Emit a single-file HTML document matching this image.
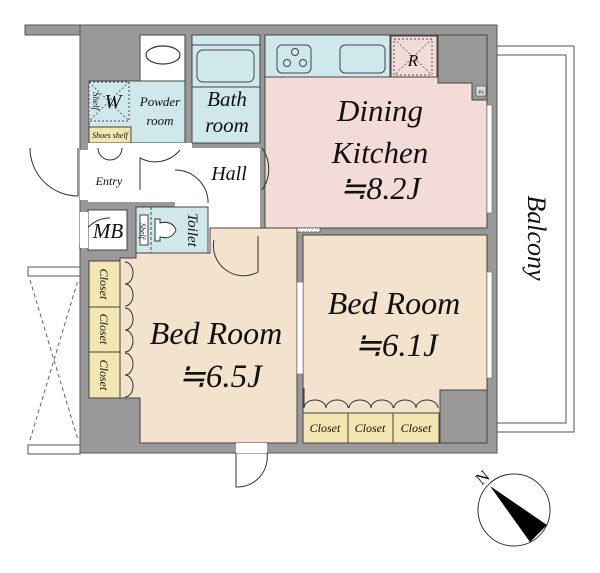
<!DOCTYPE html>
<html><head><meta charset="utf-8"><style>
html,body{margin:0;padding:0;background:#fff;width:600px;height:573px;overflow:hidden}
svg text{font-family:"Liberation Serif",serif;font-style:italic;fill:#111}
</style></head><body>
<svg width="600" height="573" viewBox="0 0 600 573" xmlns="http://www.w3.org/2000/svg">
<!-- balcony -->
<rect x="490" y="46" width="84" height="386" fill="#fff" stroke="#555" stroke-width="1"/>
<rect x="490" y="55" width="76" height="368" fill="#fff" stroke="#555" stroke-width="1"/>
<!-- top left band -->
<rect x="25" y="25" width="60" height="10" fill="#999" stroke="#555" stroke-width="1"/>
<!-- main building grey -->
<rect x="80" y="25" width="417" height="428" fill="#999" stroke="#555" stroke-width="1"/>
<!-- left outside bars -->
<rect x="28" y="267" width="52" height="9" fill="#fff" stroke="#555"/>
<rect x="28" y="445" width="52" height="9" fill="#fff" stroke="#555"/>
<path d="M30 280 L78 440 M30 440 L78 280" stroke="#666" stroke-dasharray="4,3" fill="none"/>
<!-- powder room -->
<rect x="140" y="35" width="45" height="46" fill="#fff" stroke="#444"/>
<ellipse cx="163" cy="55" rx="17" ry="9" fill="#fff" stroke="#333" stroke-width="1.2"/>
<rect x="89" y="81" width="96" height="62" fill="#cfe8ec" stroke="#444"/>
<rect x="89" y="82" width="40" height="39" fill="#cfe8ec" stroke="#444" stroke-dasharray="2,2"/>
<path d="M89 82 L129 121 M129 82 L89 121" stroke="#666" stroke-dasharray="2,2"/>
<rect x="89" y="127" width="42" height="16" fill="#f3e6b0" stroke="#444"/>
<!-- bath -->
<rect x="192" y="35" width="68" height="108" fill="#cfe8ec" stroke="#444"/>
<line x1="192" y1="45" x2="260" y2="45" stroke="#444"/>
<line x1="192" y1="87" x2="260" y2="87" stroke="#444"/>
<rect x="197" y="50" width="57" height="32" rx="6" fill="#cfe8ec" stroke="#444"/>
<!-- hall/entry -->
<rect x="88" y="148" width="172" height="54" fill="#fff"/>
<rect x="175" y="148" width="85" height="117" fill="#fff"/>
<rect x="185" y="143" width="7" height="6" fill="#fff"/>
<rect x="88" y="143" width="97" height="6" fill="#fff"/>
<!-- kitchen -->
<rect x="265" y="35" width="222" height="193" fill="#f3dcd7" stroke="#444"/>
<rect x="265" y="35" width="125" height="42" fill="#cfe8ec" stroke="#444"/>
<rect x="277" y="45" width="34" height="28" rx="5" fill="none" stroke="#444"/>
<circle cx="295" cy="52" r="3.5" fill="none" stroke="#444"/><circle cx="287" cy="63" r="3.5" fill="none" stroke="#444"/><circle cx="303" cy="63" r="3.5" fill="none" stroke="#444"/>
<rect x="340" y="45" width="45" height="28" rx="5" fill="none" stroke="#444"/>
<rect x="391" y="36" width="46" height="41" fill="#f3dcd7" stroke="#444"/>
<rect x="394" y="39" width="38" height="36" fill="none" stroke="#555" stroke-dasharray="2,2"/>
<path d="M394 39 L432 75 M432 39 L394 75" stroke="#777" stroke-dasharray="2,2"/>
<path d="M438 35 L487 35 L487 100 L472 100 L472 83 L438 83 Z" fill="#999" stroke="#444"/>
<rect x="476" y="86" width="10" height="10" fill="#ddd" stroke="#444" stroke-width="0.6"/>
<text x="481" y="94" font-size="5" text-anchor="middle">PS</text>
<rect x="487" y="105" width="5" height="108" fill="#fff" stroke="#666" stroke-width="0.6"/>
<rect x="275" y="228" width="45" height="4" fill="#fff" stroke="#555" stroke-dasharray="3,1"/>
<!-- MB -->
<rect x="88" y="210" width="39" height="40" fill="#fff" stroke="#444"/>
<!-- toilet -->
<rect x="136" y="207" width="72" height="46" fill="#cfe8ec" stroke="#444"/>
<line x1="151" y1="207" x2="151" y2="253" stroke="#444" stroke-dasharray="3,2"/>
<rect x="140" y="215" width="8" height="30" fill="#fff" stroke="#444"/>
<path d="M155 219 L160 219 L160 223 Q172 220 176 230 Q172 240 160 237 L160 241 L155 241 Z" fill="#fff" stroke="#333"/>
<!-- bedroom 6.5 -->
<path d="M210 228 L297 228 L297 443 L140 443 L140 398 L120 398 L120 258 L136 258 L136 253 L210 253 Z" fill="#f3e2cc" stroke="#444"/>
<rect x="89" y="261" width="31" height="46" fill="#f3e6b0" stroke="#444"/>
<rect x="89" y="307" width="31" height="45" fill="#f3e6b0" stroke="#444"/>
<rect x="89" y="352" width="31" height="46" fill="#f3e6b0" stroke="#444"/>
<path d="M125 262 A8 11 0 0 1 125 284 A8 11 0 0 1 125 306 M125 308 A8 11 0 0 1 125 330 A8 11 0 0 1 125 352 M125 353 A8 11 0 0 1 125 375 A8 11 0 0 1 125 397" fill="none" stroke="#333"/>
<!-- bedroom 6.1 -->
<rect x="303" y="235" width="184" height="208" fill="#f3e2cc" stroke="#444"/>
<path d="M440 390 L487 390 L487 443 L440 443 Z" fill="#999" stroke="#444"/>
<rect x="303" y="413" width="45" height="30" fill="#f3e6b0" stroke="#444"/>
<rect x="348" y="413" width="45" height="30" fill="#f3e6b0" stroke="#444"/>
<rect x="393" y="413" width="46" height="30" fill="#f3e6b0" stroke="#444"/>
<path d="M304 408 A11 8 0 0 1 326 408 A11 8 0 0 1 348 408 M349 408 A11 8 0 0 1 371 408 A11 8 0 0 1 393 408 M394 408 A11 8 0 0 1 416 408 A11 8 0 0 1 438 408" fill="none" stroke="#333"/>
<line x1="304" y1="388" x2="304" y2="408" stroke="#333"/>
<rect x="297" y="282" width="6" height="92" fill="#fff" stroke="#666" stroke-width="0.6"/>
<rect x="487" y="272" width="5" height="106" fill="#fff" stroke="#666" stroke-width="0.6"/>
<!-- doors -->
<g fill="none" stroke="#333" stroke-width="1">
<path d="M30 148 A48 48 0 0 0 78 196 L78 148"/>
<path d="M98 148 A12 12 0 0 0 110 160 M122 148 A12 12 0 0 1 110 160"/>
<path d="M140 190 L140 158 A32 32 0 0 0 180 150"/>
<path d="M175 170 A33 33 0 0 1 208 200 L208 203"/>
<path d="M262 148 A36 36 0 0 1 262 190"/>
<path d="M80 250 A30 30 0 0 1 110 218"/>
<path d="M214 240 A30 30 0 0 0 258 272 L258 236"/>
<path d="M236 453 L236 487 A30 30 0 0 0 267 453"/>
</g>
<rect x="236" y="443" width="31" height="10" fill="#fff"/>
<rect x="80" y="150" width="8" height="50" fill="#fff"/>
<rect x="80" y="212" width="8" height="36" fill="#fff"/>
<!-- compass -->
<circle cx="514" cy="510" r="36" fill="#fff" stroke="#333"/>
<polygon points="490,486 547,525 530,542" fill="#000"/>
<text x="483" y="483" font-size="17" transform="rotate(-40 483 478)" text-anchor="middle" style="font-style:normal">N</text>
<!-- labels -->
<text x="380" y="121" font-size="31" text-anchor="middle">Dining</text>
<text x="380" y="163" font-size="31" text-anchor="middle">Kitchen</text>
<text x="380" y="199" font-size="32" text-anchor="middle">≒8.2J</text>
<text x="394" y="314" font-size="32" text-anchor="middle">Bed Room</text>
<text x="396" y="356" font-size="33" text-anchor="middle">≒6.1J</text>
<text x="216" y="344" font-size="32" text-anchor="middle">Bed Room</text>
<text x="220" y="387" font-size="33" text-anchor="middle">≒6.5J</text>
<text font-size="26" transform="translate(528 238) rotate(90)" text-anchor="middle">Balcony</text>
<text x="229" y="180" font-size="20" text-anchor="middle">Hall</text>
<text x="109" y="185" font-size="12" text-anchor="middle">Entry</text>
<text x="108" y="238" font-size="21" text-anchor="middle">MB</text>
<text font-size="15" transform="translate(188 230) rotate(90)" text-anchor="middle">Toilet</text>
<text font-size="8" transform="translate(140 231) rotate(90)" text-anchor="middle">Shelf</text>
<text x="160" y="106" font-size="13" text-anchor="middle">Powder</text>
<text x="160" y="125" font-size="13" text-anchor="middle">room</text>
<text x="227" y="106" font-size="21" text-anchor="middle">Bath</text>
<text x="227" y="132" font-size="21" text-anchor="middle">room</text>
<text x="113" y="108" font-size="20" text-anchor="middle">W</text>
<text font-size="9" transform="translate(93 101) rotate(90)" text-anchor="middle">Shelf</text>
<text x="110" y="138" font-size="8" text-anchor="middle">Shoes shelf</text>
<text x="413" y="66" font-size="17" text-anchor="middle">R</text>
<text font-size="12" transform="translate(100 284) rotate(90)" text-anchor="middle">Closet</text>
<text font-size="12" transform="translate(100 329) rotate(90)" text-anchor="middle">Closet</text>
<text font-size="12" transform="translate(100 375) rotate(90)" text-anchor="middle">Closet</text>
<text x="325" y="432" font-size="12" text-anchor="middle">Closet</text>
<text x="370" y="432" font-size="12" text-anchor="middle">Closet</text>
<text x="416" y="432" font-size="12" text-anchor="middle">Closet</text>
</svg>
</body></html>
